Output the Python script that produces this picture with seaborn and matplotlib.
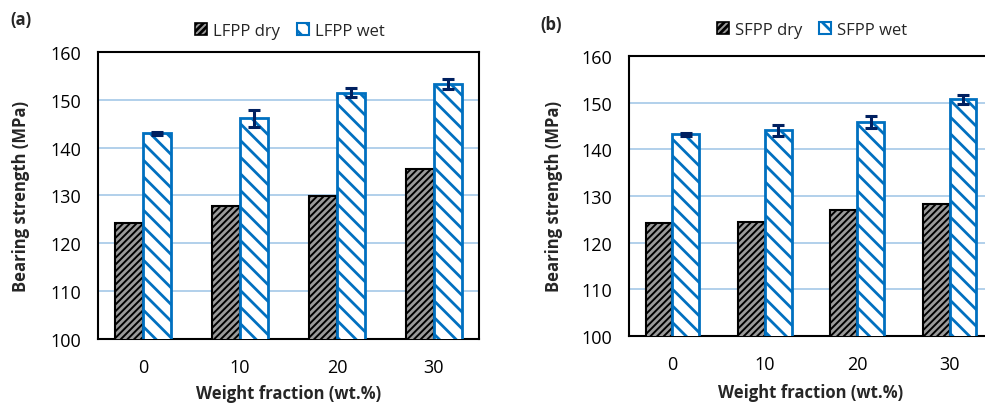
import matplotlib
matplotlib.use("Agg")
import matplotlib.pyplot as plt
import matplotlib.patches as mpatches
import seaborn as sns
import pandas as pd

# ---- data ----
weight_fractions = ["0", "10", "20", "30"]
lfpp_dry = [124.2, 127.9, 129.9, 135.5]
lfpp_wet = [143.0, 146.1, 151.5, 153.3]
lfpp_wet_err = [0.3, 1.7, 1.0, 1.0]
sfpp_dry = [124.3, 124.5, 126.9, 128.2]
sfpp_wet = [143.2, 144.1, 145.9, 150.7]
sfpp_wet_err = [0.3, 1.2, 1.25, 1.0]
yticks = [100, 110, 120, 130, 140, 150, 160]

sns.set_theme(style="white")
plt.rcParams['font.family'] = ['Open Sans', 'DejaVu Sans']
plt.rcParams['hatch.linewidth'] = 2.0

BLUE = "#0070C0"
NAVY = "#002060"
GRID = "#9DC3E6"
DRYFACE = "#9a9a9a"

fig = plt.figure(figsize=(9.85, 4.06), dpi=100)
ax_a = fig.add_axes([0.0995, 0.1626, 0.3868, 0.7069])
ax_b = fig.add_axes([0.6386, 0.170, 0.3695, 0.6897])


def panel(ax, name, dry, wet, err, ylab_x, xlab_y):
    df = pd.DataFrame({
        "wt": weight_fractions * 2,
        "cond": [f"{name} dry"] * 4 + [f"{name} wet"] * 4,
        "val": dry + wet,
    })
    sns.barplot(data=df, x="wt", y="val", hue="cond", width=0.58,
                palette=[DRYFACE, "white"], ax=ax, legend=False,
                saturation=1, errorbar=None)
    dry_bars, wet_bars = ax.containers[0], ax.containers[1]
    for b in dry_bars:
        b.set_facecolor(DRYFACE)
        b.set_edgecolor("black")
        b.set_hatch("/////")
        b.set_linewidth(1.5)
        try:
            b.set_hatch_linewidth(1.4)
        except Exception:
            pass
        b.set_zorder(3)
    for b in wet_bars:
        b.set_facecolor("white")
        b.set_edgecolor(BLUE)
        b.set_hatch("\\\\")
        b.set_linewidth(2.0)
        try:
            b.set_hatch_linewidth(2.0)
        except Exception:
            pass
        b.set_zorder(3)
    xs = [b.get_x() + b.get_width() / 2 for b in wet_bars]
    ys = [b.get_height() for b in wet_bars]
    ax.errorbar(xs, ys, yerr=err, fmt="none", ecolor=NAVY, elinewidth=2.2,
                capsize=4, capthick=2.2, zorder=5)
    ax.set_ylim(100, 160)
    ax.set_yticks(yticks)
    ax.yaxis.grid(True, color=GRID, linewidth=1.1, zorder=0)
    ax.xaxis.grid(False)
    ax.set_axisbelow(True)
    for s in ax.spines.values():
        s.set_color("black")
        s.set_linewidth(1.5)
    ax.tick_params(axis="both", length=0, labelsize=13, colors="black")
    ax.tick_params(axis="x", pad=14)
    ax.tick_params(axis="y", pad=12)
    ax.set_xlabel("Weight fraction (wt.%)", fontsize=12, fontweight="bold")
    ax.set_ylabel("Bearing strength (MPa)", fontsize=12, fontweight="bold")
    ax.yaxis.set_label_coords(ylab_x, 0.5)
    ax.xaxis.set_label_coords(0.5, xlab_y)
    h_dry = mpatches.Patch(facecolor=DRYFACE, edgecolor="black", hatch="/////",
                           linewidth=1.2, label=f"{name} dry")
    h_wet = mpatches.Patch(facecolor="white", edgecolor=BLUE, hatch="\\\\",
                           linewidth=1.5, label=f"{name} wet")
    return h_dry, h_wet


ha = panel(ax_a, "LFPP", lfpp_dry, lfpp_wet, lfpp_wet_err, -0.178, -0.157)
hb = panel(ax_b, "SFPP", sfpp_dry, sfpp_wet, sfpp_wet_err, -0.181, -0.168)

leg_kw = dict(loc="center", ncol=2, frameon=False, fontsize=12,
              handlelength=0.75, handleheight=0.75, handletextpad=0.35,
              columnspacing=1.0)
fig.legend(handles=list(ha), bbox_to_anchor=(290 / 985, 1 - 32 / 406), **leg_kw)
fig.legend(handles=list(hb), bbox_to_anchor=(812 / 985, 1 - 31 / 406), **leg_kw)

fig.text(21 / 985, 1 - 20 / 406, "(a)", fontsize=12, fontweight="bold",
         ha="center", va="center")
fig.text(551 / 985, 1 - 25 / 406, "(b)", fontsize=12, fontweight="bold",
         ha="center", va="center")

fig.savefig("out.png", dpi=100)
